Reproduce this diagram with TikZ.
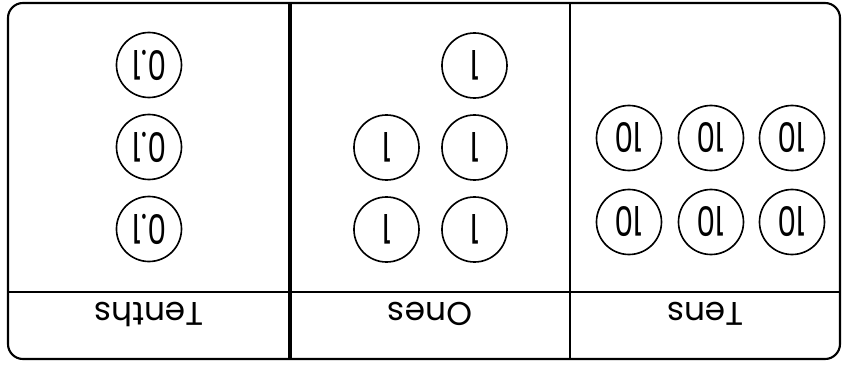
\documentclass[tikz,border=0pt]{standalone}
\usepackage{fontspec}
\setmainfont{Poppins}
\newfontfamily\digitfont[FakeStretch=0.72]{Poppins}

\tikzset{
  coin/.style={draw, circle, line width=1.4pt, minimum size=1.95cm, inner sep=0pt,
    font=\digitfont\fontsize{35}{37}\selectfont},
  colhead/.style={anchor=base, font=\fontsize{28}{30}\selectfont}
}

\begin{document}
\begin{tikzpicture}[x=0.03cm, y=0.03cm, rotate=180, transform shape]
\useasboundingbox (0,0) rectangle (845,367);
% frame and rules
\draw[line width=1.8pt, rounded corners=0.45cm] (5,3) rectangle (837,359);
\draw[line width=1.2pt] (5,292) -- (837,292);
\draw[line width=1.2pt] (275,3) -- (275,359);
\draw[line width=3pt] (555,3) -- (555,359);
% headings
\node[colhead] (tens) at (140,302) {Tens};
\node[colhead] (ones) at (415,302) {Ones};
\node[colhead] (tenths) at (696,302) {Tenths};
% Tens
\foreach \i/\x/\y in {1/53/138, 2/134/138, 3/216/138, 4/53/222, 5/134/222, 6/216/222}
  \node[coin] (ten\i) at (\x,\y) {10};
% Ones
\foreach \i/\x/\y in {1/370.5/65.5, 2/370.5/147.5, 3/458.5/147.5, 4/370.5/229.5, 5/458.5/229.5}
  \node[coin] (one\i) at (\x,\y) {1};
% Tenths
\foreach \i/\y in {1/65, 2/147, 3/229}
  \node[coin] (tenth\i) at (696,\y) {0.1};
\end{tikzpicture}
\end{document}
